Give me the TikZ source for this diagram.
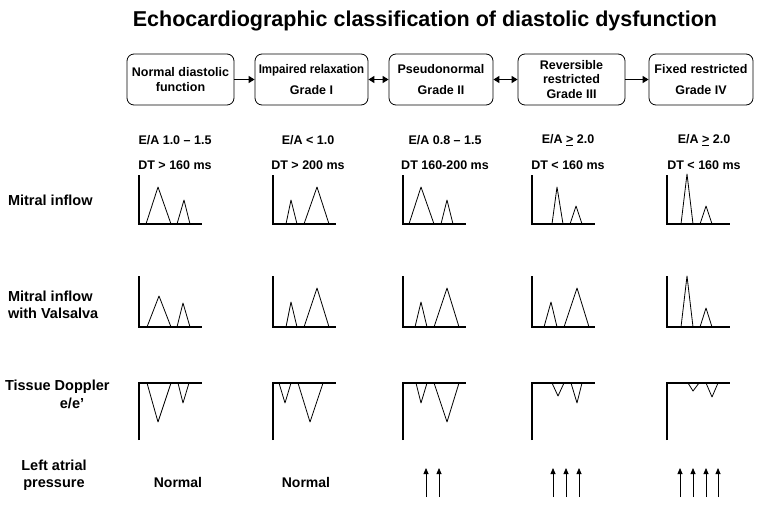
\documentclass[tikz,border=0pt]{standalone}
\usepackage{fontspec}
\setmainfont{Liberation Sans}
\usepackage{graphicx}
\usetikzlibrary{arrows.meta}

\begin{document}
\begin{tikzpicture}[x=1pt, y=-1pt,
    grade/.style={draw, line width=0.8pt, rounded corners=7pt, minimum height=51pt, align=center, inner sep=1pt, font=\fontsize{12.5}{14.5}\selectfont\bfseries},
    lab/.style={font=\fontsize{12.5}{14}\selectfont\bfseries},
    rowlab/.style={font=\fontsize{14.5}{17}\selectfont\bfseries, align=left, anchor=west},
    axis/.style={line width=2.6pt},
    wave/.style={line width=0.8pt, line join=round},
    link/.style={line width=1.3pt, -{Triangle[width=7pt,length=6pt]}},
    dlink/.style={line width=1.3pt, {Triangle[width=7pt,length=6pt]}-{Triangle[width=7pt,length=6pt]}},
    rise/.style={line width=0.8pt, -{Triangle[width=5pt,length=6pt]}}]
    \useasboundingbox (0,0) rectangle (759,508);

    % Title
    \node[font=\fontsize{21.5}{24}\selectfont\bfseries] (title) at (425,21) {Echocardiographic classification of diastolic dysfunction};

    % Grade boxes
    \node[grade, minimum width=107] (normal) at (180.5,79.5) {Normal diastolic\\function};
    \node[grade, minimum width=113] (impaired) at (311.5,79.5) {\scalebox{0.92}[1]{Impaired relaxation}\\[7pt]Grade I};
    \node[grade, minimum width=104] (pseudo) at (441,79.5) {Pseudonormal\\[7pt]Grade II};
    \node[grade, minimum width=107] (revers) at (571.5,79.5) {Reversible\\restricted\\Grade III};
    \node[grade, minimum width=104] (fixed) at (701,79.5) {Fixed restricted\\[7pt]Grade IV};

    % Arrows between grades
    \draw[link] (normal) -- (impaired);
    \draw[dlink] (impaired) -- (pseudo);
    \draw[dlink] (pseudo) -- (revers);
    \draw[link] (revers) -- (fixed);

    % E/A ratio and deceleration time
    \node[lab] (ea1) at (175,140) {E/A 1.0 – 1.5};
    \node[lab] (ea2) at (308,140) {E/A < 1.0};
    \node[lab] (ea3) at (445,140) {E/A 0.8 – 1.5};
    \node[lab] (ea4) at (568,140) {E/A \underline{>} 2.0};
    \node[lab] (ea5) at (704,140) {E/A \underline{>} 2.0};
    \node[lab] (dt1) at (175,165) {DT > 160 ms};
    \node[lab] (dt2) at (308,165) {DT > 200 ms};
    \node[lab] (dt3) at (445,165) {DT 160-200 ms};
    \node[lab] (dt4) at (568,165) {DT < 160 ms};
    \node[lab] (dt5) at (704,165) {DT < 160 ms};

    % Row labels
    \node[rowlab] (mitral) at (4.5,200) {Mitral inflow};
    \node[rowlab] (valsalva) at (4.5,305) {Mitral inflow\\with Valsalva};
    \node[rowlab] (tissue) at (1.5,387) {Tissue Doppler};
    \node[font=\fontsize{14.5}{17}\selectfont\bfseries] (ratio) at (72,403) {e/e'};
    \node[font=\fontsize{14.5}{17}\selectfont\bfseries, align=center] (lap) at (54,475) {Left atrial\\pressure};

    % Axes
    \foreach \x in {139,273,403,532,667} {
        \draw[axis] (\x,175) -- (\x,224) -- (\x+63,224);
        \draw[axis] (\x,276) -- (\x,327) -- (\x+63,327);
        \draw[axis] (\x,440) -- (\x,383) -- (\x+63,383);
    }

    % Mitral inflow
    \draw[wave] (146,224) -- (158,187) -- (171,224) (177,224) -- (184,200) -- (190,224);
    \draw[wave] (286,224) -- (291,200) -- (297,224) (304,224) -- (317,187) -- (329,224);
    \draw[wave] (409,224) -- (421,187) -- (434,224) (441,224) -- (447,200) -- (453,224);
    \draw[wave] (552,224) -- (557,187) -- (563,224) (570,224) -- (576,206) -- (582,224);
    \draw[wave] (681,224) -- (687,174) -- (693,224) (700,224) -- (706,206) -- (712,224);

    % Mitral inflow with Valsalva
    \draw[wave] (147,327) -- (159,296) -- (171,327) (177,327) -- (183,303) -- (190,327);
    \draw[wave] (286,327) -- (291,302) -- (297,327) (304,327) -- (317,288) -- (329,327);
    \draw[wave] (415,327) -- (421,302) -- (427,327) (434,327) -- (447,288) -- (459,327);
    \draw[wave] (544,327) -- (551,302) -- (557,327) (564,327) -- (577,288) -- (589,327);
    \draw[wave] (681,327) -- (687,276) -- (693,327) (700,327) -- (706,308) -- (712,327);

    % Tissue Doppler
    \draw[wave] (147,383) -- (158,422) -- (171,383) (178,383) -- (183,403) -- (189,383);
    \draw[wave] (279,383) -- (285,403) -- (291,383) (298,383) -- (310,422) -- (323,383);
    \draw[wave] (416,383) -- (421,403) -- (427,383) (434,383) -- (447,422) -- (459,383);
    \draw[wave] (552,383) -- (558,396) -- (564,383) (571,383) -- (577,403) -- (582,383);
    \draw[wave] (688,383) -- (693,391) -- (699,383) (706,383) -- (712,397) -- (718,383);

    % Left atrial pressure
    \node[font=\fontsize{14}{16}\selectfont\bfseries] (lap1) at (178,482) {Normal};
    \node[font=\fontsize{14}{16}\selectfont\bfseries] (lap2) at (306,482) {Normal};
    \foreach \x in {426,439,553,566,579,680,693,706,718}
        \draw[rise] (\x,497) -- (\x,468);
\end{tikzpicture}
\end{document}
